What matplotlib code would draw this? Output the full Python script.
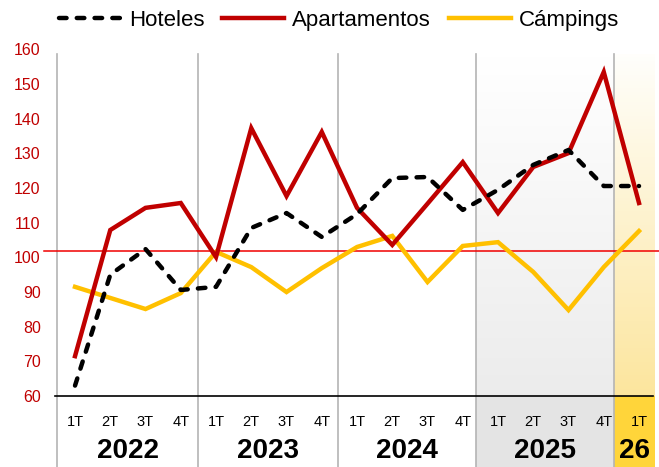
import numpy as np
import matplotlib.pyplot as plt
from matplotlib.lines import Line2D
from matplotlib.patches import Rectangle
import matplotlib.transforms as mtransforms

plt.rcParams['font.family'] = ['Liberation Sans', 'DejaVu Sans']

# quarterly series, 2022 1T .. 2026 1T
quarters = ['1T', '2T', '3T', '4T'] * 4 + ['1T']
years = ['2022', '2023', '2024', '2025', '26']
hoteles = [63, 95, 102.4, 90.6, 91.5, 108.5, 112.8, 105.9, 112.5, 122.9, 123.2, 113.7,
           119.5, 126.7, 131, 120.6, 120.6]
apartamentos = [71.5, 107.9, 114.3, 115.7, 100.1, 137.3, 117.7, 136.2, 114.3, 103.6, 115.5, 127.5,
                112.8, 126.1, 130.1, 153.5, 115.7]
campings = [91.5, 88.3, 85.1, 89.7, 101.6, 97.2, 90, 96.9, 103, 106.2, 92.9, 103.3,
            104.4, 95.8, 84.8, 97.2, 107.6]
ref_level = 101.8

RED = '#C00000'
GOLD = '#FFC000'

x = np.arange(len(quarters))
# year band edges on the x axis
edges = [-0.5, 3.5, 7.45, 11.38, 15.3, 16.45]
top = 158.7

fig = plt.figure(figsize=(6.59, 4.67), dpi=100)
ax = fig.add_axes([57.4 / 659, 71 / 467, (659 - 57.4) / 659, 346.5 / 467])
trans = mtransforms.blended_transform_factory(ax.transData, ax.transAxes)

# shaded bands for 2025 (grey) and 2026 (yellow)
grey = np.linspace([1.0, 1.0, 1.0], [0.925, 0.925, 0.925], 100)[:, None, :]
ax.imshow(grey, extent=[edges[3], edges[4], 60, top], aspect='auto', zorder=0)
yell = np.linspace([1.0, 0.998, 0.985], [0.99, 0.90, 0.62], 100)[:, None, :]
ax.imshow(yell, extent=[edges[4], edges[5], 60, top], aspect='auto', zorder=0)
ax.add_patch(Rectangle((edges[3], -0.205), edges[4] - edges[3], 0.205, transform=trans,
                       facecolor='#E4E4E4', edgecolor='none', clip_on=False, zorder=0))
ax.add_patch(Rectangle((edges[4], -0.205), edges[5] - edges[4], 0.205, transform=trans,
                       facecolor='#FFD53A', edgecolor='none', clip_on=False, zorder=0))

# year separators
ymax = (top - 60) / 100
for e in edges[:-1]:
    ax.plot([e, e], [-0.205, ymax], transform=trans, color='#B4B4B4', lw=1.2,
            clip_on=False, zorder=1)

# base line and reference line
ax.plot([-0.57, 16.4], [60, 60], color='black', lw=1.2, clip_on=False, zorder=2)
ax.plot([-0.88, 16.567], [ref_level, ref_level], color='#F00000', lw=1.1, clip_on=False, zorder=2)

ax.plot(x, campings, color=GOLD, lw=3.2, zorder=3, solid_joinstyle='miter')
ax.plot(x, apartamentos, color=RED, lw=3.2, zorder=4, solid_joinstyle='miter')
ax.plot(x, hoteles, color='black', lw=3.2, zorder=5, linestyle=(0, (1.7, 2.3)),
        dash_capstyle='round')

ax.set_xlim(-0.5, 16.567)
ax.set_ylim(60, 160)
ax.set_xticks([])
ax.set_yticks(range(60, 161, 10))
ax.tick_params(axis='y', length=0, pad=12, labelsize=11.5, labelcolor=RED)
for s in ax.spines.values():
    s.set_visible(False)

for xi, q in zip(x, quarters):
    ax.text(xi, -0.075, q, transform=trans, ha='center', va='center', fontsize=10.5)
for i, yr in enumerate(years):
    ax.text((edges[i] + edges[i + 1]) / 2, -0.16, yr, transform=trans, ha='center',
            va='center', fontsize=20, fontweight='bold')

handles = [
    Line2D([], [], color='black', lw=3.2, linestyle=(0, (1.7, 2.3)), dash_capstyle='round'),
    Line2D([], [], color=RED, lw=3.2),
    Line2D([], [], color=GOLD, lw=3.2),
]
fig.legend(handles, ['Hoteles', 'Apartamentos', 'Cámpings'], loc='center',
           bbox_to_anchor=(0.514, 0.957), ncol=3, frameon=False, fontsize=16,
           handlelength=2.8, handletextpad=0.35, columnspacing=0.8)

fig.savefig('out.png', dpi=100)
